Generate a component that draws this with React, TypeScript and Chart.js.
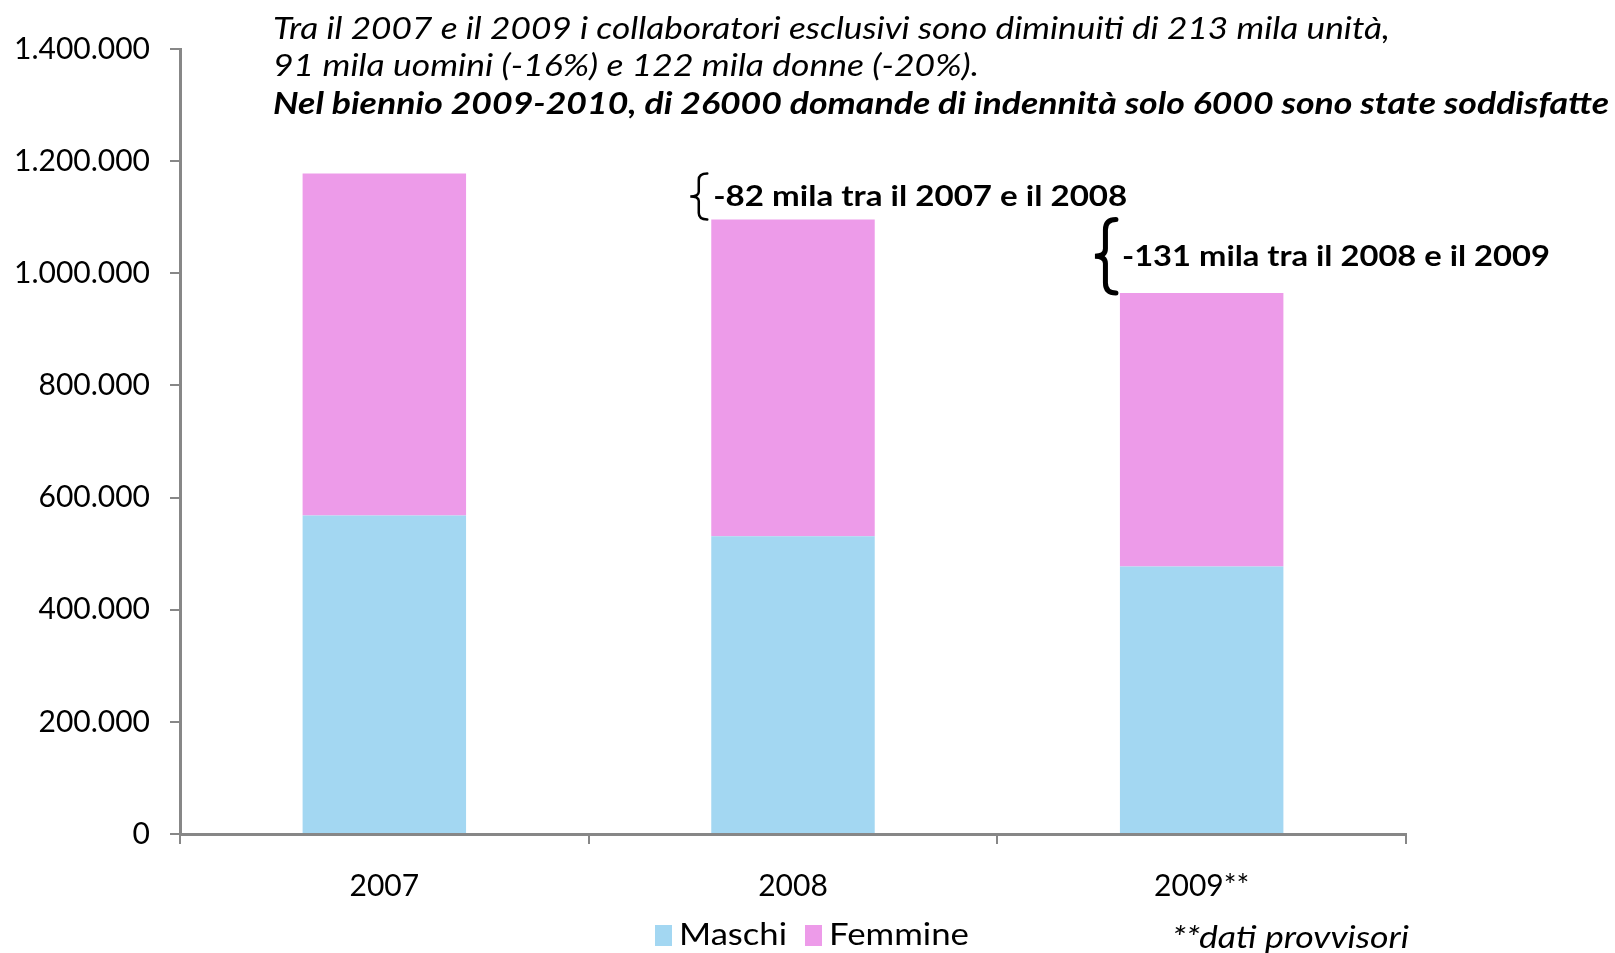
import React, { useEffect, useRef } from "react";
import { Chart, registerables } from "chart.js";

Chart.register(...registerables);

const categories = ["2007", "2008", "2009**"];
const maschi = [568000, 531000, 477000];
const femmine = [610000, 565000, 488000];
const seriesNames = ["Maschi", "Femmine"];
const seriesColors = ["#A3D7F2", "#ED9BE9"];
const yMax = 1400000;
const yStep = 200000;
const titleLines = [
  "Tra il 2007 e il 2009 i collaboratori esclusivi sono diminuiti di 213 mila unità,",
  "91 mila uomini (-16%) e 122 mila donne (-20%).",
  "Nel biennio 2009-2010, di 26000 domande di indennità solo 6000 sono state soddisfatte",
];
const annotations = ["-82 mila tra il 2007 e il 2008", "-131 mila tra il 2008 e il 2009"];
const footnote = "**dati provvisori";

const FONT = "Lato, 'Open Sans', sans-serif";
const AXIS_COLOR = "#878787";

const fmt = (n: number) => String(n).replace(/\B(?=(\d{3})+(?!\d))/g, ".");

function fitText(ctx: CanvasRenderingContext2D, text: string, x: number, y: number, width: number, font: string) {
  ctx.save();
  ctx.font = font;
  ctx.textBaseline = "middle";
  ctx.textAlign = "left";
  ctx.fillStyle = "#000";
  const w = ctx.measureText(text).width;
  ctx.translate(x, y);
  ctx.scale(width / w, 1);
  ctx.fillText(text, 0, 0);
  ctx.restore();
}

function brace(ctx: CanvasRenderingContext2D, xl: number, xr: number, y1: number, y2: number, lw: number) {
  const xm = (xl + xr) / 2;
  const ym = (y1 + y2) / 2;
  const h = y2 - y1;
  ctx.save();
  ctx.strokeStyle = "#000";
  ctx.lineWidth = lw;
  ctx.lineCap = "round";
  ctx.beginPath();
  ctx.moveTo(xr, y1);
  ctx.quadraticCurveTo(xm, y1, xm, y1 + h * 0.14);
  ctx.lineTo(xm, ym - h * 0.1);
  ctx.quadraticCurveTo(xm, ym, xl, ym);
  ctx.quadraticCurveTo(xm, ym, xm, ym + h * 0.1);
  ctx.lineTo(xm, y2 - h * 0.14);
  ctx.quadraticCurveTo(xm, y2, xr, y2);
  ctx.stroke();
  ctx.restore();
}

const overlay = {
  id: "overlay",
  afterDraw(chart: any) {
    const ctx: CanvasRenderingContext2D = chart.ctx;
    // title
    fitText(ctx, titleLines[0], 273, 29, 1117, `italic 31px ${FONT}`);
    fitText(ctx, titleLines[1], 273, 66, 706, `italic 31px ${FONT}`);
    fitText(ctx, titleLines[2], 273, 104, 1336, `italic bold 31px ${FONT}`);

    // annotations
    const totals = maschi.map((m, i) => m + femmine[i]);
    const ys = chart.scales.y;
    const meta = chart.getDatasetMeta(1);
    const widths = [414, 428];
    const braceW = [17, 21];
    const braceLw = [2.5, 5];
    for (let i = 1; i < categories.length; i++) {
      const bar = meta.data[i];
      const left = bar.x - bar.width / 2;
      const y1 = ys.getPixelForValue(totals[i - 1]);
      const y2 = ys.getPixelForValue(totals[i]);
      brace(ctx, left - 4 - braceW[i - 1], left - 4, y1, y2, braceLw[i - 1]);
      fitText(ctx, annotations[i - 1], left + 2, (y1 + y2) / 2, widths[i - 1], `bold 29px ${FONT}`);
    }

    // legend
    const ds = chart.data.datasets;
    const legendX = [655, 805];
    const legendW = [108, 140];
    ds.forEach((d: any, i: number) => {
      ctx.save();
      ctx.fillStyle = d.backgroundColor;
      ctx.fillRect(legendX[i], 925, 17, 21);
      ctx.restore();
      fitText(ctx, d.label, legendX[i] + 24, 935, legendW[i], `30px ${FONT}`);
    });

    fitText(ctx, footnote, 1172, 938, 237, `italic 30px ${FONT}`);
  },
};

export default function App() {
  const ref = useRef<HTMLCanvasElement>(null);
  useEffect(() => {
    if (!ref.current) return;
    const chart = new Chart(ref.current, {
      type: "bar",
      data: {
        labels: categories,
        datasets: [
          { label: seriesNames[0], data: maschi, backgroundColor: seriesColors[0], borderWidth: 0 },
          { label: seriesNames[1], data: femmine, backgroundColor: seriesColors[1], borderWidth: 0 },
        ],
      },
      options: {
        responsive: false,
        animation: false,
        devicePixelRatio: 1,
        layout: { padding: { top: 49, right: 209, bottom: 0, left: 0 } },
        datasets: { bar: { barPercentage: 0.4, categoryPercentage: 1 } },
        plugins: { legend: { display: false }, tooltip: { enabled: false }, title: { display: false } },
        scales: {
          x: {
            stacked: true,
            afterFit: (s: any) => { s.height = 119; },
            grid: { offset: true, drawOnChartArea: false, drawTicks: true, tickLength: 10, color: AXIS_COLOR, lineWidth: 2 },
            border: { display: true, color: AXIS_COLOR, width: 3 },
            ticks: { color: "#000", font: { family: FONT, size: 30 }, padding: 24 },
          },
          y: {
            stacked: true,
            min: 0,
            max: yMax,
            afterFit: (s: any) => { s.width = 180; },
            grid: { drawOnChartArea: false, drawTicks: true, tickLength: 10, color: AXIS_COLOR, lineWidth: 2 },
            border: { display: true, color: AXIS_COLOR, width: 3 },
            ticks: { stepSize: yStep, color: "#000", font: { family: FONT, size: 30 }, padding: 20, callback: (v: any) => fmt(Number(v)) },
          },
        },
      },
      plugins: [overlay],
    });
    return () => chart.destroy();
  }, []);
  return (
    <div style={{ position: "fixed", left: 0, top: 0, width: 1615, height: 953, background: "#fff" }}>
      <canvas ref={ref} width={1615} height={953} style={{ width: 1615, height: 953, display: "block" }} />
    </div>
  );
}
